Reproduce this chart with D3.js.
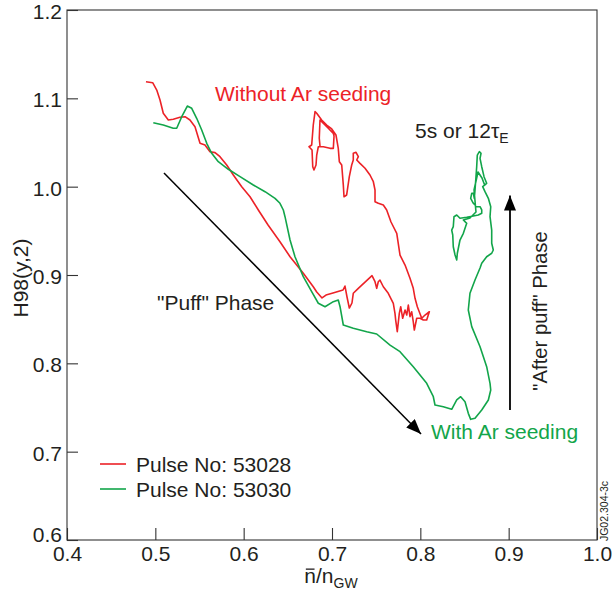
<!DOCTYPE html>
<html>
<head>
<meta charset="utf-8">
<script src="https://cdn.jsdelivr.net/npm/d3@7"></script>
<style>
  html, body { margin: 0; padding: 0; background: #fff; }
  svg text { font-family: "Liberation Sans", Arial, Helvetica, sans-serif; fill: #231f20; }
</style>
</head>
<body>
<svg id="chart" width="612" height="596"></svg>
<script>
// Axis ranges and ticks
const xTicks = [0.4, 0.5, 0.6, 0.7, 0.8, 0.9, 1.0];
const yTicks = [0.6, 0.7, 0.8, 0.9, 1.0, 1.1, 1.2];

// Pulse 53028 (without Ar seeding): [n/nGW, H98(y,2)]
const pulse53028 = [
  [0.4894,1.1188],[0.4970,1.1177],[0.5016,1.1094],[0.5053,1.0981],[0.5090,1.0831],[0.5147,1.0755],
  [0.5203,1.0763],[0.5279,1.0785],[0.5336,1.0792],[0.5392,1.0755],[0.5449,1.0679],[0.5506,1.0491],
  [0.5562,1.0472],[0.5619,1.0396],[0.5676,1.0385],[0.5732,1.0339],[0.5808,1.0245],[0.5883,1.0132],
  [0.5978,0.9999],[0.6072,0.9886],[0.6166,0.9736],[0.6276,0.9566],[0.6411,0.9377],[0.6525,0.9207],
  [0.6675,0.9019],[0.6788,0.8867],[0.6827,0.8807],[0.6887,0.8740],[0.6932,0.8773],[0.7011,0.8796],
  [0.7125,0.8830],[0.7147,0.8875],[0.7170,0.8751],[0.7196,0.8626],[0.7226,0.8683],[0.7241,0.8793],
  [0.7298,0.8849],[0.7453,0.8992],[0.7487,0.8924],[0.7506,0.8849],[0.7524,0.8924],[0.7543,0.8943],
  [0.7581,0.8867],[0.7637,0.8793],[0.7694,0.8680],[0.7713,0.8566],[0.7721,0.8490],[0.7739,0.8358],
  [0.7762,0.8566],[0.7778,0.8641],[0.7800,0.8510],[0.7827,0.8604],[0.7846,0.8547],[0.7864,0.8660],
  [0.7883,0.8528],[0.7902,0.8584],[0.7920,0.8471],[0.7932,0.8377],[0.7951,0.8471],[0.7959,0.8510],
  [0.7996,0.8510],[0.8034,0.8490],[0.8072,0.8490],[0.8090,0.8547],[0.8102,0.8584],[0.8053,0.8547],
  [0.8016,0.8510],[0.7966,0.8641],[0.7940,0.8736],[0.7920,0.8849],[0.7883,0.8963],[0.7827,0.9113],
  [0.7770,0.9226],[0.7733,0.9472],[0.7668,0.9600],[0.7619,0.9736],[0.7581,0.9792],[0.7524,0.9812],
  [0.7487,0.9830],[0.7487,0.9962],[0.7468,1.0056],[0.7430,1.0132],[0.7374,1.0208],[0.7317,1.0264],
  [0.7280,1.0302],[0.7298,1.0339],[0.7272,1.0389],[0.7241,1.0378],[0.7241,1.0302],[0.7223,1.0245],
  [0.7196,1.0113],[0.7166,0.9906],[0.7136,0.9886],[0.7128,1.0019],[0.7110,1.0245],[0.7083,1.0283],
  [0.7071,1.0434],[0.7045,1.0585],[0.6997,1.0653],[0.6940,1.0698],[0.6883,1.0755],[0.6827,1.0831],
  [0.6808,1.0849],[0.6788,1.0698],[0.6770,1.0472],[0.6740,1.0452],[0.6774,1.0415],[0.6782,1.0226],
  [0.6796,1.0189],[0.6819,1.0245],[0.6827,1.0358],[0.6845,1.0452],[0.6902,1.0452],[0.6977,1.0434],
  [0.7015,1.0434],[0.7023,1.0574],[0.7015,1.0604],[0.6955,1.0664],[0.6864,1.0755],[0.6856,1.0548],
  [0.6864,1.0460]
];

// Pulse 53030 (with Ar seeding): [n/nGW, H98(y,2)]
const pulse53030 = [
  [0.4977,1.0724],[0.5090,1.0698],[0.5203,1.0661],[0.5242,1.0661],[0.5299,1.0792],[0.5362,1.0913],
  [0.5412,1.0887],[0.5468,1.0774],[0.5525,1.0641],[0.5582,1.0491],[0.5638,1.0378],[0.5713,1.0283],
  [0.5826,1.0197],[0.5959,1.0113],[0.6109,1.0019],[0.6242,0.9943],[0.6355,0.9868],[0.6411,0.9812],
  [0.6449,0.9736],[0.6468,0.9660],[0.6525,0.9396],[0.6581,0.9207],[0.6675,0.8981],[0.6770,0.8811],
  [0.6845,0.8680],[0.6921,0.8641],[0.7015,0.8698],[0.7071,0.8717],[0.7091,0.8641],[0.7128,0.8434],
  [0.7241,0.8397],[0.7393,0.8358],[0.7506,0.8332],[0.7657,0.8207],[0.7770,0.8132],[0.7920,0.7962],
  [0.8072,0.7774],[0.8147,0.7622],[0.8166,0.7528],[0.8260,0.7509],[0.8355,0.7480],[0.8412,0.7585],
  [0.8457,0.7622],[0.8506,0.7566],[0.8543,0.7434],[0.8570,0.7366],[0.8619,0.7378],[0.8695,0.7472],
  [0.8770,0.7585],[0.8797,0.7698],[0.8789,0.7774],[0.8751,0.7962],[0.8676,0.8188],[0.8582,0.8415],
  [0.8543,0.8604],[0.8562,0.8793],[0.8619,0.8943],[0.8676,0.9079],[0.8695,0.9132],[0.8751,0.9207],
  [0.8808,0.9246],[0.8826,0.9283],[0.8808,0.9359],[0.8808,0.9509],[0.8789,0.9660],[0.8797,0.9773],
  [0.8770,0.9868],[0.8732,0.9943],[0.8706,1.0000],[0.8751,1.0038],[0.8721,1.0113],[0.8695,1.0226],
  [0.8676,1.0321],[0.8687,1.0378],[0.8668,1.0396],[0.8645,1.0358],[0.8638,1.0226],[0.8630,1.0113],
  [0.8619,0.9962],[0.8611,0.9868],[0.8600,0.9925],[0.8582,0.9925],[0.8570,0.9868],[0.8600,0.9812],
  [0.8638,0.9773],[0.8676,0.9773],[0.8695,0.9736],[0.8695,0.9698],[0.8656,0.9679],[0.8600,0.9668],
  [0.8525,0.9653],[0.8449,0.9642],[0.8412,0.9679],[0.8381,0.9660],[0.8373,0.9547],[0.8355,0.9509],
  [0.8367,0.9453],[0.8373,0.9320],[0.8393,0.9226],[0.8412,0.9170],[0.8419,0.9246],[0.8449,0.9396],
  [0.8487,0.9472],[0.8525,0.9585],[0.8487,0.9623],[0.8562,0.9645],[0.8630,0.9713],[0.8608,0.9962],
  [0.8653,1.0166],[0.8698,1.0098],[0.8732,1.0008]
];

const series = [
  { name: "Pulse No: 53028", color: "#ec2227", values: pulse53028 },
  { name: "Pulse No: 53030", color: "#12a54a", values: pulse53030 }
];

const svg = d3.select("#chart");
const plotLeft = 67, plotRight = 597, plotTop = 10, plotBottom = 540;
const x = d3.scaleLinear().domain([0.4, 1.0]).range([plotLeft, plotRight]);
const y = d3.scaleLinear().domain([0.6, 1.2]).range([plotBottom, plotTop]);
const axisColor = "#333";
const fs = 21;

// Frame
svg.append("rect")
  .attr("x", plotLeft).attr("y", plotTop)
  .attr("width", plotRight - plotLeft).attr("height", plotBottom - plotTop)
  .attr("fill", "none").attr("stroke", axisColor).attr("stroke-width", 1.1);

// Axes with inward ticks
const gx = svg.append("g").attr("transform", `translate(0,${plotBottom})`)
  .call(d3.axisBottom(x).tickValues(xTicks).tickFormat(d3.format(".1f")).tickSize(-12).tickPadding(6));
const gy = svg.append("g").attr("transform", `translate(${plotLeft},0)`)
  .call(d3.axisLeft(y).tickValues(yTicks).tickFormat(d3.format(".1f")).tickSize(-11).tickPadding(5));
[gx, gy].forEach(g => {
  g.select(".domain").remove();
  g.selectAll(".tick line").attr("stroke", axisColor).attr("stroke-width", 1.1);
  g.selectAll(".tick text").attr("font-size", fs).attr("fill", "#231f20")
    .style("font-family", "'Liberation Sans', Arial, sans-serif");
});
gy.selectAll(".tick text").attr("dy", "0.4em");
// lift the lowest y label clear of the x-axis origin label
gy.selectAll(".tick").filter(d => d === 0.6).select("text").attr("dy", "0.05em");

// Trajectories
const line = d3.line().x(d => x(d[0])).y(d => y(d[1])).curve(d3.curveLinear);
svg.append("g").selectAll("path").data(series).join("path")
  .attr("d", d => line(d.values))
  .attr("fill", "none")
  .attr("stroke", d => d.color)
  .attr("stroke-width", 1.6)
  .attr("stroke-linejoin", "round");

// Arrow marker
const defs = svg.append("defs");
defs.append("marker")
  .attr("id", "head").attr("viewBox", "0 0 15 12")
  .attr("refX", 15).attr("refY", 6)
  .attr("markerWidth", 15).attr("markerHeight", 12)
  .attr("markerUnits", "userSpaceOnUse")
  .attr("orient", "auto")
  .append("path").attr("d", "M0,0 L15,6 L0,12 Z").attr("fill", "#000");

// "Puff" phase arrow
svg.append("line")
  .attr("x1", x(0.5098)).attr("y1", y(1.0155))
  .attr("x2", x(0.8008)).attr("y2", y(0.7200))
  .attr("stroke", "#000").attr("stroke-width", 1.5)
  .attr("marker-end", "url(#head)");

// "After puff" phase arrow
svg.append("line")
  .attr("x1", x(0.9015)).attr("y1", y(0.7472))
  .attr("x2", x(0.9015)).attr("y2", y(0.9900))
  .attr("stroke", "#000").attr("stroke-width", 1.8)
  .attr("marker-end", "url(#head)");

// Annotations
svg.append("text").attr("x", 215).attr("y", 101).attr("font-size", fs)
  .style("fill", series[0].color).text("Without Ar seeding");
svg.append("text").attr("x", 431).attr("y", 439).attr("font-size", fs)
  .style("fill", series[1].color).text("With Ar seeding");
svg.append("text").attr("x", 157).attr("y", 310).attr("font-size", fs).text("\"Puff\" Phase");

const t5 = svg.append("text").attr("x", 415).attr("y", 138).attr("font-size", fs);
t5.append("tspan").text("5s or 12\u03C4");
t5.append("tspan").attr("font-size", 14).attr("dy", 5).text("E");

svg.append("text")
  .attr("transform", "translate(547,311) rotate(-90)")
  .attr("text-anchor", "middle").attr("font-size", 20.3)
  .text("\"After puff\" Phase");

// Axis titles
svg.append("text")
  .attr("transform", "translate(28,278) rotate(-90)")
  .attr("text-anchor", "middle").attr("font-size", fs)
  .text("H98(y,2)");

const xt = svg.append("text").attr("x", 331).attr("y", 583)
  .attr("text-anchor", "middle").attr("font-size", fs);
xt.append("tspan").text("n/n");
xt.append("tspan").attr("font-size", 14).attr("dy", 5).text("GW");
// bar over the leading n (line-averaged density)
const nBox = xt.node().getExtentOfChar(0);
svg.append("line")
  .attr("x1", nBox.x + 1.5).attr("x2", nBox.x + nBox.width - 1.5)
  .attr("y1", 583 - 0.66 * fs).attr("y2", 583 - 0.66 * fs)
  .attr("stroke", "#231f20").attr("stroke-width", 1.3);

// Figure reference
svg.append("text")
  .attr("transform", "translate(608,511) rotate(-90)")
  .attr("text-anchor", "middle").attr("font-size", 10.5)
  .text("JG02.304-3c");

// Legend
const legend = svg.append("g").selectAll("g").data(series).join("g")
  .attr("transform", (d, i) => `translate(100,${464 + i * 25})`);
legend.append("line").attr("x1", 0).attr("x2", 26).attr("y1", 0).attr("y2", 0)
  .attr("stroke", d => d.color).attr("stroke-width", 1.6);
legend.append("text").attr("x", 36).attr("y", 7.5).attr("font-size", fs).text(d => d.name);
</script>
</body>
</html>
